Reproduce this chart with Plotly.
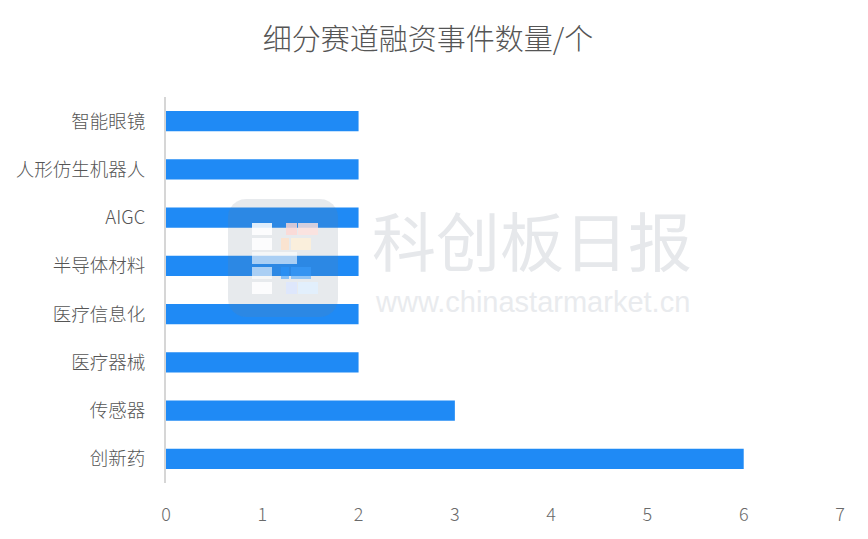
import math
import plotly.graph_objects as go

categories = ["创新药", "传感器", "医疗器械", "医疗信息化", "半导体材料", "AIGC", "人形仿生机器人", "智能眼镜"]
values = [6, 3, 2, 2, 2, 2, 2, 2]
x_ticks = [0, 1, 2, 3, 4, 5, 6, 7]
title_text = "细分赛道融资事件数量/个"

W, H = 868, 539
L, R, T, B = 166, 28, 97, 56
PW, PH = W - L - R, H - T - B
FONT = "Noto Sans CJK SC"


def px(x):
    return (x - L) / PW


def py(y):
    return (H - B - y) / PH


def rounded_rect_path(x0, y0, x1, y1, rad):
    pts = []
    corners = [
        (x1 - rad, y0 + rad, -90, 0),
        (x1 - rad, y1 - rad, 0, 90),
        (x0 + rad, y1 - rad, 90, 180),
        (x0 + rad, y0 + rad, 180, 270),
    ]
    for cx, cy, a0, a1 in corners:
        for k in range(7):
            a = math.radians(a0 + (a1 - a0) * k / 6)
            pts.append((px(cx + rad * math.cos(a)), py(cy + rad * math.sin(a))))
    return "M " + " L ".join(f"{a:.5f},{b:.5f}" for a, b in pts) + " Z"


fig = go.Figure()
fig.add_trace(go.Bar(
    y=categories, x=values, orientation="h",
    marker=dict(color="#1f8af5", line=dict(width=0)),
    hoverinfo="x+y",
))

shapes = [dict(type="path", xref="paper", yref="paper", path=rounded_rect_path(228, 199, 338, 317, 18),
               fillcolor="rgba(110,130,150,0.17)", line=dict(width=0), layer="above")]
blocks = [
    (252, 272, 223, 235, "rgba(255,255,255,0.85)"),
    (252, 272, 238, 250, "rgba(255,255,255,0.85)"),
    (252, 297, 252, 264, "rgba(255,255,255,0.6)"),
    (252, 272, 267, 279, "rgba(255,255,255,0.6)"),
    (252, 272, 282, 294, "rgba(255,255,255,0.85)"),
    (286, 297, 223, 235, "rgba(255,215,210,0.8)"),
    (298, 318, 223, 235, "rgba(255,225,220,0.8)"),
    (281, 289, 238, 250, "rgba(255,225,200,0.8)"),
    (291, 311, 238, 250, "rgba(255,240,215,0.8)"),
    (281, 289, 267, 279, "rgba(40,150,255,0.5)"),
    (291, 311, 267, 279, "rgba(60,160,255,0.5)"),
    (286, 297, 282, 294, "rgba(220,230,255,0.8)"),
    (298, 318, 282, 294, "rgba(225,240,255,0.8)"),
]
for bx0, bx1, by0, by1, c in blocks:
    shapes.append(dict(type="rect", xref="paper", yref="paper", x0=px(bx0), x1=px(bx1),
                       y0=py(by1), y1=py(by0), fillcolor=c, line=dict(width=0), layer="above"))

annotations = [
    dict(text="科创板日报", xref="paper", yref="paper", x=px(532), y=py(238),
         xanchor="center", yanchor="middle", showarrow=False,
         font=dict(family=FONT, size=64, color="#e6e8eb")),
    dict(text="www.chinastarmarket.cn", xref="paper", yref="paper", x=px(532), y=py(302),
         xanchor="center", yanchor="middle", showarrow=False,
         font=dict(family="Liberation Sans", size=29, color="#e9ebee")),
]

fig.update_layout(
    width=W, height=H,
    margin=dict(l=L, r=R, t=T, b=B, pad=0),
    paper_bgcolor="white", plot_bgcolor="white",
    bargap=0.585,
    showlegend=False,
    title=dict(text=title_text, x=428 / W, xref="container", xanchor="center", y=1 - 40 / H, yanchor="middle",
               font=dict(family=FONT, size=29, color="#555555", weight=300)),
    xaxis=dict(range=[0, 7], tickvals=x_ticks, showgrid=False, zeroline=False, showline=False,
               ticks="", ticklabelstandoff=19,
               tickfont=dict(family=FONT, size=18, color="#6a6a6a", weight=300), fixedrange=True),
    yaxis=dict(categoryorder="array", categoryarray=categories, showgrid=False, zeroline=False,
               showline=True, linecolor="#d6d6d6", linewidth=2, ticks="", ticklabelstandoff=15,
               tickfont=dict(family=FONT, size=18.5, color="#555555", weight=300), fixedrange=True),
    shapes=shapes,
    annotations=annotations,
)

fig.write_html("out.html", config={"displayModeBar": False},
               post_script="document.body.style.margin='0';document.body.style.overflow='hidden';")
